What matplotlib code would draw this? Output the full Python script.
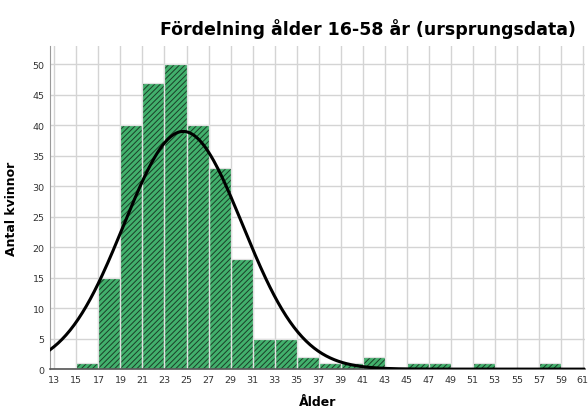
import numpy as np
import matplotlib.pyplot as plt

# bin edges (width 2) and counts per bin
bin_left = [15, 17, 19, 21, 23, 25, 27, 29, 31, 33, 35, 37, 39, 41, 45, 47, 51, 57]
counts = [1, 15, 40, 47, 50, 40, 33, 18, 5, 5, 2, 1, 1, 2, 1, 1, 1, 1]
bin_width = 2
x_ticks = list(range(13, 62, 2))
y_ticks = list(range(0, 51, 5))

# fitted normal curve parameters
mean_age = 24.7
sd_age = 5.4

plt.rcParams["hatch.linewidth"] = 0.7

fig = plt.figure(figsize=(5.88, 4.14), dpi=100)
ax = fig.add_axes([0.085, 0.106, 0.91, 0.78])

ax.grid(True, color="#d4d4d4", linewidth=1.0)
ax.set_axisbelow(True)

# fill with dark hatch, then light outline on top
ax.bar(bin_left, counts, width=bin_width, align="edge", color="#42b06c",
       edgecolor="#1a3f28", linewidth=0, hatch="//////", zorder=2)
ax.bar(bin_left, counts, width=bin_width, align="edge", fill=False,
       edgecolor="#e0e0e0", linewidth=0.9, zorder=2.1)

n = sum(counts)
xs = np.linspace(12.6, 61.2, 400)
ys = n * bin_width / (sd_age * np.sqrt(2 * np.pi)) * np.exp(-0.5 * ((xs - mean_age) / sd_age) ** 2)
ax.plot(xs, ys, color="black", linewidth=2.2, zorder=3)

ax.set_xlim(12.6, 61.2)
ax.set_ylim(0, 53)
ax.set_xticks(x_ticks)
ax.set_yticks(y_ticks)
ax.tick_params(axis="both", labelsize=6.8, length=0, pad=4, colors="#333333")
for s in ["top", "right"]:
    ax.spines[s].set_visible(False)
ax.spines["left"].set_color("#999999")
ax.spines["bottom"].set_color("#555555")
ax.spines["bottom"].set_linewidth(1.2)

ax.set_xlabel("Ålder", fontsize=9, fontweight="bold", labelpad=8)
ax.set_ylabel("Antal kvinnor", fontsize=9, fontweight="bold", labelpad=10)
fig.text(0.625, 0.93, "Fördelning ålder 16-58 år (ursprungsdata)",
         ha="center", va="center", fontsize=12.5, fontweight="bold")

fig.savefig("out.png", dpi=100)
